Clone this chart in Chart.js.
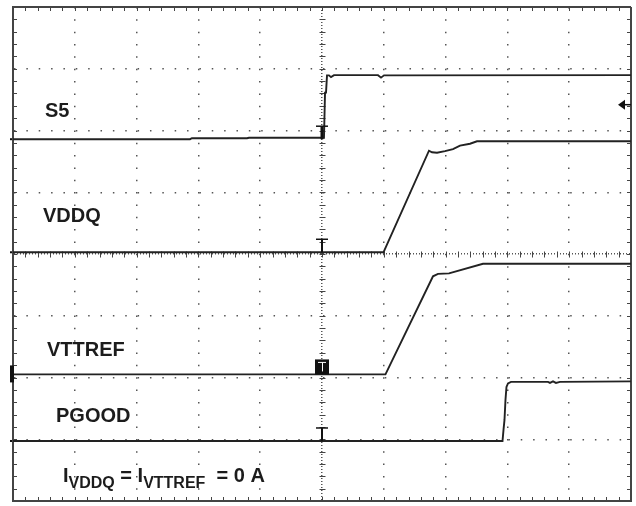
<!DOCTYPE html>
<html>
<head>
<meta charset="utf-8">
<script src="https://cdn.jsdelivr.net/npm/chart.js@4.4.1/dist/chart.umd.min.js"></script>
<style>
  html, body { margin: 0; padding: 0; background: #fff; }
  #wrap { width: 636px; height: 506px; }
</style>
</head>
<body>
<div id="wrap"><canvas id="scopeChart" width="636" height="506"></canvas></div>
<script>
// screen is 10 x 8 divisions, all values below are in divisions
const xDivs = 10;
const yDivs = 8;

const s5Time  = [0, 2.864, 2.896, 3.786, 3.819, 5.032, 5.049, 5.065, 5.081, 5.113, 5.146, 5.194, 5.906, 5.955, 6.003, 10];
const s5Level = [5.859, 5.859, 5.875, 5.875, 5.883, 5.883, 6.613, 6.613, 6.893, 6.893, 6.864, 6.896, 6.896, 6.856, 6.893, 6.896];

const vddqTime  = [0, 5.995, 6.731, 6.780, 6.861, 6.990, 7.120, 7.233, 7.395, 7.508, 10];
const vddqLevel = [4.028, 4.028, 5.673, 5.648, 5.640, 5.665, 5.697, 5.754, 5.786, 5.826, 5.826];

const vttrefTime  = [0, 6.027, 6.796, 6.877, 7.055, 7.605, 10];
const vttrefLevel = [2.050, 2.050, 3.639, 3.679, 3.687, 3.841, 3.841];

const pgoodTime  = [0, 7.921, 7.937, 7.953, 7.969, 7.985, 8.010, 8.058, 8.657, 8.689, 8.738, 8.786, 8.851, 10];
const pgoodLevel = [0.972, 0.972, 1.151, 1.313, 1.637, 1.848, 1.904, 1.929, 1.929, 1.912, 1.937, 1.912, 1.929, 1.937];

const channelNames  = ['S5', 'VDDQ', 'VTTREF', 'PGOOD'];
const channelGround = [5.859, 4.028, 2.050, 0.972];
const triggerTime  = 5;
const triggerLevel = 6.418;

function toPoints(t, v) {
  return t.map((x, i) => ({ x: x, y: v[i] }));
}

const traceColor = '#222';
function trace(label, t, v) {
  return {
    label: label,
    data: toPoints(t, v),
    showLine: true,
    borderColor: traceColor,
    borderWidth: 1.9,
    pointRadius: 0,
    tension: 0,
  };
}

const isEdge = (v, max) => v === 0 || v === max;

// minor ticks, trigger markers, labels
const scopeMarks = {
  id: 'scopeMarks',
  beforeDatasetsDraw(chart) {
    const { ctx, chartArea: a, scales: { x, y } } = chart;
    const cx = Math.round(x.getPixelForValue(xDivs / 2)) + 0.5;
    const cy = Math.round(y.getPixelForValue(yDivs / 2)) + 0.5;
    ctx.save();
    ctx.strokeStyle = '#444';
    ctx.lineWidth = 1;
    ctx.beginPath();
    for (let i = 1; i < xDivs * 5; i++) {
      const px = Math.round(x.getPixelForValue(i / 5)) + 0.5;
      ctx.moveTo(px, a.top); ctx.lineTo(px, a.top + 4);
      ctx.moveTo(px, a.bottom - 4); ctx.lineTo(px, a.bottom);
      ctx.moveTo(px, cy - 3); ctx.lineTo(px, cy + 3);
    }
    for (let i = 1; i < yDivs * 5; i++) {
      const py = Math.round(y.getPixelForValue(i / 5)) + 0.5;
      ctx.moveTo(a.left, py); ctx.lineTo(a.left + 4, py);
      ctx.moveTo(a.right - 4, py); ctx.lineTo(a.right, py);
      ctx.moveTo(cx - 3, py); ctx.lineTo(cx + 3, py);
    }
    ctx.stroke();
    ctx.restore();
  },
  afterDatasetsDraw(chart) {
    const { ctx, chartArea: a, scales: { x, y } } = chart;
    const tx = Math.round(x.getPixelForValue(triggerTime));
    ctx.save();
    ctx.strokeStyle = '#111';
    ctx.fillStyle = '#111';

    channelGround.forEach((g, i) => {
      const gy = y.getPixelForValue(g);
      if (channelNames[i] === 'VTTREF') {
        ctx.fillRect(tx - 7, gy - 15, 14, 15);
        ctx.strokeStyle = '#fff';
        ctx.lineWidth = 1;
        ctx.beginPath();
        ctx.moveTo(tx - 4, gy - 12); ctx.lineTo(tx + 4, gy - 12);
        ctx.moveTo(tx + 0.5, gy - 12); ctx.lineTo(tx + 0.5, gy - 3);
        ctx.stroke();
        ctx.strokeStyle = '#111';
        // ground marker on the left edge
        ctx.fillRect(a.left - 3, gy - 9, 4, 17);
      } else {
        ctx.lineWidth = 1.5;
        ctx.beginPath();
        ctx.moveTo(tx - 6, gy - 13); ctx.lineTo(tx + 6, gy - 13);
        ctx.stroke();
        ctx.lineWidth = i === 0 ? 3 : 2;
        ctx.beginPath();
        ctx.moveTo(tx, gy - 13); ctx.lineTo(tx, gy);
        ctx.stroke();
        ctx.fillRect(a.left - 3, gy - 1, 2, 2);
      }
    });

    // trigger level arrow on the right edge
    const ay = y.getPixelForValue(triggerLevel);
    ctx.lineWidth = 1.5;
    ctx.beginPath();
    ctx.moveTo(a.right - 8, ay); ctx.lineTo(a.right, ay);
    ctx.stroke();
    ctx.beginPath();
    ctx.moveTo(a.right - 13, ay);
    ctx.lineTo(a.right - 6, ay - 5);
    ctx.lineTo(a.right - 6, ay + 5);
    ctx.closePath();
    ctx.fill();

    // channel labels
    ctx.fillStyle = '#1c1c1c';
    ctx.textBaseline = 'alphabetic';
    const big = 'bold 20px "Liberation Sans", Arial, sans-serif';
    const small = 'bold 16px "Liberation Sans", Arial, sans-serif';
    ctx.font = big;
    const labelAt = [[0.518, 6.215], [0.486, 4.520], [0.55, 2.342], [0.696, 1.272]];
    channelNames.forEach((name, i) => {
      ctx.fillText(name, x.getPixelForValue(labelAt[i][0]), y.getPixelForValue(labelAt[i][1]));
    });

    // I_VDDQ = I_VTTREF  = 0 A
    let px = x.getPixelForValue(0.809);
    const base = y.getPixelForValue(0.308);
    const parts = [['I', big, 0], ['VDDQ', small, 6], [' = I', big, 0], ['VTTREF', small, 6], ['  = 0 A', big, 0]];
    parts.forEach(([s, f, dy]) => {
      ctx.font = f;
      ctx.fillText(s, px, base + dy);
      px += ctx.measureText(s).width;
    });
    ctx.restore();
  }
};

new Chart(document.getElementById('scopeChart'), {
  type: 'scatter',
  data: {
    datasets: [
      trace('S5', s5Time, s5Level),
      trace('VDDQ', vddqTime, vddqLevel),
      trace('VTTREF', vttrefTime, vttrefLevel),
      trace('PGOOD', pgoodTime, pgoodLevel),
    ]
  },
  options: {
    responsive: false,
    animation: false,
    devicePixelRatio: 1,
    layout: { padding: { left: 13, top: 7, right: 5, bottom: 5 } },
    plugins: {
      legend: { display: false },
      tooltip: { enabled: false },
    },
    scales: {
      x: {
        type: 'linear',
        min: 0,
        max: xDivs,
        ticks: { display: false, stepSize: 1 },
        grid: {
          drawTicks: false,
          color: c => isEdge(c.tick && c.tick.value, xDivs) ? '#444' : '#555',
          lineWidth: c => isEdge(c.tick && c.tick.value, xDivs) ? 2 : 1.5,
        },
        border: {
          display: true,
          color: '#444',
          width: 2,
          dash: c => {
            const v = c.tick && c.tick.value;
            if (v === undefined || isEdge(v, xDivs)) return [];
            if (v === xDivs / 2) return [1, 2];
            return [1.5, 10.84];
          },
        },
      },
      y: {
        type: 'linear',
        min: 0,
        max: yDivs,
        ticks: { display: false, stepSize: 1 },
        grid: {
          drawTicks: false,
          color: c => isEdge(c.tick && c.tick.value, yDivs) ? '#444' : '#555',
          lineWidth: c => isEdge(c.tick && c.tick.value, yDivs) ? 2 : 1.5,
        },
        border: {
          display: true,
          color: '#444',
          width: 2,
          dash: c => {
            const v = c.tick && c.tick.value;
            if (v === undefined || isEdge(v, yDivs)) return [];
            if (v === yDivs / 2) return [1, 2];
            return [1.5, 10.86];
          },
        },
      },
    },
  },
  plugins: [scopeMarks],
});
</script>
</body>
</html>
